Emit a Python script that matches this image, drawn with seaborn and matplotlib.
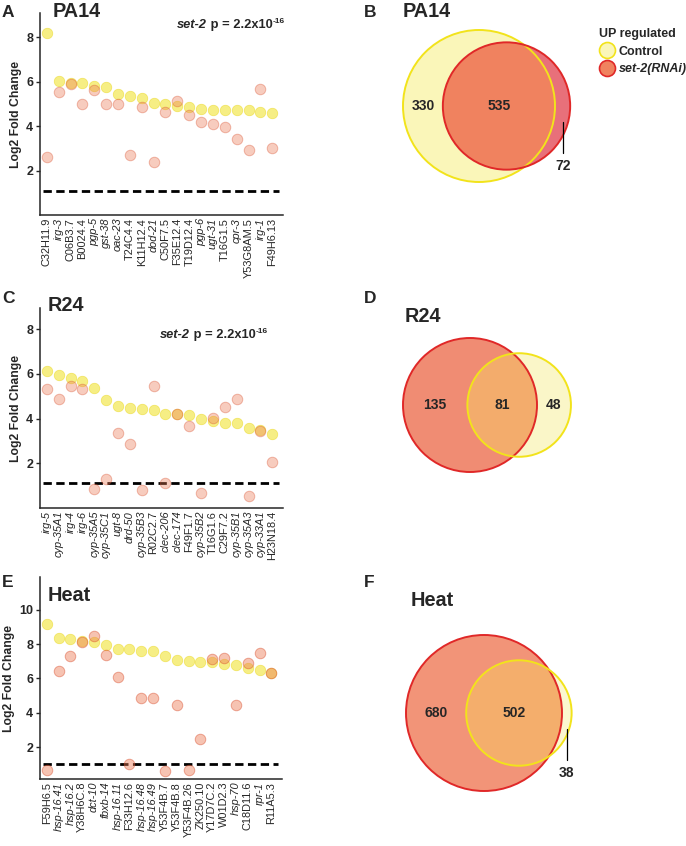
import numpy as np
import pandas as pd
import seaborn as sns
import matplotlib.pyplot as plt
from matplotlib.patches import Circle
from matplotlib.lines import Line2D

# ---- data ----
pa14_genes = ['C32H11.9', 'irg-3', 'C06B3.7', 'B0024.4', 'pgp-5', 'gst-38', 'oac-23',
              'T24C4.4', 'K11H12.4', 'dod-21', 'C50F7.5', 'F35E12.4', 'T19D12.4', 'pgp-6',
              'ugt-31', 'T16G1.5', 'cpr-3', 'Y53G8AM.5', 'irg-1', 'F49H6.13']
pa14_control = [8.2, 6.05, 5.95, 5.95, 5.8, 5.75, 5.45, 5.35, 5.25, 5.05,
                4.98, 4.92, 4.85, 4.77, 4.75, 4.73, 4.72, 4.72, 4.65, 4.6]
pa14_set2 = [2.6, 5.55, 5.9, 4.98, 5.65, 4.98, 5.02, 2.72, 4.85, 2.38,
             4.62, 5.15, 4.5, 4.18, 4.12, 3.95, 3.42, 2.92, 5.68, 3.0]

r24_genes = ['irg-5', 'cyp-35A1', 'irg-4', 'irg-6', 'cyp-35A5', 'cyp-35C1', 'ugt-8',
             'drd-50', 'cyp-35B3', 'R02C2.7', 'clec-206', 'clec-174', 'F49F1.7',
             'cyp-35B2', 'T16G1.6', 'C29F7.2', 'cyp-35B1', 'cyp-35A3', 'cyp-33A1', 'H23N18.4']
r24_control = [6.12, 5.97, 5.8, 5.7, 5.36, 4.82, 4.55, 4.48, 4.42, 4.37,
               4.2, 4.2, 4.16, 4.0, 3.9, 3.8, 3.8, 3.6, 3.48, 3.32]
r24_set2 = [5.31, 4.9, 5.45, 5.34, 0.85, 1.31, 3.37, 2.88, 0.8, 5.48,
            1.1, 4.2, 3.67, 0.66, 4.02, 4.54, 4.9, 0.52, 3.46, 2.05]

heat_genes = ['F59H6.5', 'hsp-16.41', 'hsp-16.2', 'Y38H6C.8', 'dct-10', 'fbxb-14',
              'hsp-16.11', 'F33H12.6', 'hsp-16.48', 'hsp-16.49', 'Y53F4B.7', 'Y53F4B.8',
              'Y53F4B.26', 'ZK250.10', 'Y17D7C.2', 'W01D2.3', 'hsp-70', 'C18D11.6',
              'rpr-1', 'R11A5.3']
heat_control = [9.17, 8.33, 8.29, 8.2, 8.1, 7.94, 7.73, 7.7, 7.57, 7.57,
                7.28, 7.09, 7.0, 6.97, 6.93, 6.83, 6.8, 6.6, 6.5, 6.33]
heat_set2 = [0.68, 6.43, 7.3, 8.14, 8.49, 7.38, 6.1, 1.0, 4.87, 4.87,
             0.6, 4.47, 0.68, 2.45, 7.13, 7.2, 4.45, 6.87, 7.48, 6.33]

# venn counts: (left only, both, right only)
pa14_venn = (330, 535, 72)    # left = Control, right = set-2
r24_venn = (135, 81, 48)      # left = set-2, right = Control
heat_venn = (680, 502, 38)    # left = set-2, right = Control

sns.set_style('ticks')
plt.rcParams['font.family'] = ['Liberation Sans', 'DejaVu Sans']

W, H = 686, 846
fig = plt.figure(figsize=(W / 100, H / 100), dpi=100)


def rect(l, t, w, h):
    return [l / W, 1 - (t + h) / H, w / W, h / H]


def ftext(x, y, s, **kw):
    return fig.text(x / W, 1 - y / H, s, **kw)


YEL, YEL_EDGE = '#F0E020', '#E8D410'
ORA, ORA_EDGE = '#EC7A55', '#D9502E'


def lfc_panel(ax, genes, ctrl, set2, ylim, yticks, thr, a_set2, set2_edge):
    n = len(genes)
    df = pd.DataFrame({'gene': genes * 2, 'lfc': ctrl + set2,
                       'group': ['Control'] * n + ['set-2(RNAi)'] * n})
    sns.stripplot(data=df[df['group'] == 'Control'], x='gene', y='lfc', order=genes,
                  color=YEL, edgecolor=YEL_EDGE, linewidth=0.5, alpha=0.55,
                  size=7.6, jitter=False, ax=ax)
    sns.stripplot(data=df[df['group'] == 'set-2(RNAi)'], x='gene', y='lfc', order=genes,
                  color=ORA, edgecolor=set2_edge, linewidth=0.7, alpha=a_set2,
                  size=7.6, jitter=False, ax=ax)
    ax.hlines(thr, -0.3, n - 0.4, colors='k', lw=2, linestyles=(0, (3.0, 1.6)))
    ax.set_xlim(-0.57, n - 0.1)
    ax.set_ylim(*ylim)
    ax.set_yticks(yticks)
    ax.set_yticklabels([str(t) for t in yticks], fontweight='bold', fontsize=9)
    ax.set_xticks(range(n))
    labs = ax.set_xticklabels(genes, rotation=90, fontsize=7.9)
    for lab in labs:
        if '-' in lab.get_text():
            lab.set_style('italic')
    ax.tick_params(axis='x', length=0, pad=2)
    ax.tick_params(axis='y', length=3, width=1, pad=2)
    ax.set_xlabel('')
    ax.set_ylabel('Log2 Fold Change', fontweight='bold', fontsize=8.8, labelpad=3)
    for sp in ['left', 'bottom']:
        ax.spines[sp].set_linewidth(1.1)
    sns.despine(ax=ax)


axA = fig.add_axes(rect(40, 13, 243, 202))
lfc_panel(axA, pa14_genes, pa14_control, pa14_set2, (0, 9.1), [2, 4, 6, 8], 1.1, 0.38, ORA_EDGE)
axC = fig.add_axes(rect(40, 308, 243, 200))
lfc_panel(axC, r24_genes, r24_control, r24_set2, (0, 8.95), [2, 4, 6, 8], 1.1, 0.38, ORA_EDGE)
axE = fig.add_axes(rect(40, 577, 242, 202))
lfc_panel(axE, heat_genes, heat_control, heat_set2, (0.15, 11.9), [2, 4, 6, 8, 10], 1.0, 0.45, '#D84A28')


def pval(ax, x, y):
    t1 = ftext(x, y, 'set-2', fontsize=9.3, fontweight='bold', style='italic')
    t2 = ax.annotate(' p = 2.2x10', xy=(1, 0), xycoords=t1, fontsize=9.3,
                     fontweight='bold', va='bottom', annotation_clip=False)
    ax.annotate('-16', xy=(1, 0.5), xycoords=t2, fontsize=6, fontweight='bold',
                va='bottom', annotation_clip=False)


pval(axA, 177, 28)
pval(axC, 160, 338)


# ---- venn diagrams ----
def lens_area(r1, r2, d):
    if d >= r1 + r2:
        return 0.0
    if d <= abs(r1 - r2):
        return np.pi * min(r1, r2) ** 2
    a1 = r1 ** 2 * np.arccos((d * d + r1 * r1 - r2 * r2) / (2 * d * r1))
    a2 = r2 ** 2 * np.arccos((d * d + r2 * r2 - r1 * r1) / (2 * d * r2))
    k = 0.5 * np.sqrt((-d + r1 + r2) * (d + r1 - r2) * (d - r1 + r2) * (d + r1 + r2))
    return a1 + a2 - k


def venn(top, counts, cx_px, cy_px, big_px, fills, edges):
    lo, both, ro = counts
    r1 = np.sqrt((lo + both) / np.pi)
    r2 = np.sqrt((ro + both) / np.pi)
    a, b = abs(r1 - r2) + 1e-9, r1 + r2
    for _ in range(80):
        m = (a + b) / 2
        if lens_area(r1, r2, m) > both:
            a = m
        else:
            b = m
    d = (a + b) / 2
    s = big_px / max(r1, r2)          # pixels per unit
    h = 250
    ax = fig.add_axes(rect(360, top, 326, h))
    ax.set_xlim(0, 326 / s)
    ax.set_ylim(h / s, 0)
    ax.axis('off')
    x1, y = (cx_px - 360) / s, (cy_px - top) / s
    x2 = x1 + d
    c1 = Circle((x1, y), r1, fc=fills[0], ec='none')
    c2 = Circle((x2, y), r2, fc=fills[1], ec='none')
    ax.add_patch(c1)
    ax.add_patch(c2)
    ov = Circle((x2, y), r2, fc=fills[2], ec='none')
    ax.add_patch(ov)
    ov.set_clip_path(c1)
    ax.add_patch(Circle((x1, y), r1, fc='none', ec=edges[0], lw=1.4))
    ax.add_patch(Circle((x2, y), r2, fc='none', ec=edges[1], lw=1.4))
    kw = dict(ha='center', va='center', fontsize=10, fontweight='bold')
    total = lo + both + ro
    xs = [((x1 - r1) + (x2 - r2)) / 2, ((x2 - r2) + (x1 + r1)) / 2,
          ((x1 + r1) + (x2 + r2)) / 2]
    for xv, n in zip(xs, counts):
        if n / total < 0.1:
            ax.plot([xv, xv], [y + 16 / s, y + 47 / s], color='k', lw=0.9)
            ax.text(xv, y + 60 / s, str(n), **kw)
        else:
            ax.text(xv, y, str(n), **kw)
    return ax


axB = venn(0, pa14_venn, 479, 106, 76, ['#FAF6B9', '#E8707A', '#F0825F'], ['#F2E31B', '#E02828'])
axD = venn(290, r24_venn, 470, 405, 67, ['#F08C73', '#FAF6C8', '#F3AC6C'], ['#E02828', '#F2E31B'])
axF = venn(580, heat_venn, 484, 713, 78, ['#F29478', '#FBF7CF', '#F4AE6C'], ['#E02828', '#F2E31B'])

# legend
handles = [Line2D([], [], marker='o', ls='', markersize=11.5, mfc='#FAF6B9', mec='#F2E31B', mew=1.2),
           Line2D([], [], marker='o', ls='', markersize=11.5, mfc='#F0825F', mec='#E02828', mew=1.2)]
leg = fig.legend(handles, ['Control', 'set-2(RNAi)'], loc='upper left',
                 bbox_to_anchor=(594 / W, 1 - 23 / H), frameon=False, title='UP regulated',
                 alignment='left', prop={'weight': 'bold', 'size': 9},
                 title_fontproperties={'weight': 'bold', 'size': 9},
                 handletextpad=0.35, labelspacing=0.45, borderaxespad=0, handlelength=1.2)
leg.get_texts()[1].set_style('italic')

# panel letters and titles
for x, y, s in [(2, 17, 'A'), (364, 17, 'B'), (2, 303, 'C'), (364, 303, 'D'),
                (2, 587, 'E'), (364, 587, 'F')]:
    ftext(x, y, s, fontsize=12.5, fontweight='bold')
for x, y, s in [(53, 17, 'PA14'), (403, 17, 'PA14'), (48, 311, 'R24'),
                (405, 322, 'R24'), (48, 601, 'Heat'), (411, 606, 'Heat')]:
    ftext(x, y, s, fontsize=14.3, fontweight='bold')

fig.savefig('out.png', dpi=100)
